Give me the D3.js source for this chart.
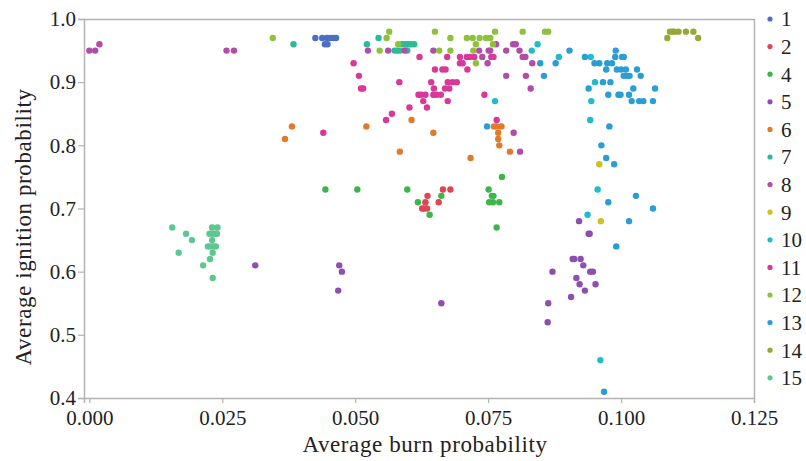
<!DOCTYPE html>
<html>
<head>
<meta charset="utf-8">
<script src="https://cdn.jsdelivr.net/npm/d3@7"></script>
<style>
  html, body { margin: 0; padding: 0; background: #fff; }
  svg { display: block; }
  text { font-family: "Liberation Serif", "Times New Roman", serif; fill: #222; }
</style>
</head>
<body>
<svg id="chart" width="806" height="461"></svg>
<script>
// Zone labels shown in the legend, with one colour each
const zones = ["1", "2", "4", "5", "6", "7", "8", "9", "10", "11", "12", "13", "14", "15"];
const zoneColors = ["#4c6fc4", "#e04552", "#3cb54a", "#8c4fae", "#e07b2c", "#2cbb98", "#b14ca8",
                    "#c9c320", "#21bccb", "#d93799", "#8ec13e", "#2a9dd4", "#98a735", "#5ec790"];

// [average burn probability, average ignition probability] per zone
const zone1 = [[0.0425,0.97],[0.0438,0.97],[0.0447,0.97],[0.0453,0.97],[0.0459,0.97],[0.0464,0.97],[0.0443,0.96],[0.0448,0.96]];
const zone2 = [[0.0665,0.73],[0.0679,0.73],[0.0636,0.72],[0.0632,0.71],[0.0657,0.71],[0.0626,0.70],[0.0630,0.70],[0.0635,0.70]];
const zone4 = [[0.0444,0.73],[0.0504,0.73],[0.0598,0.73],[0.0751,0.73],[0.0662,0.72],[0.0757,0.72],[0.0760,0.72],[0.0618,0.71],
               [0.0752,0.71],[0.0759,0.71],[0.0771,0.71],[0.0640,0.69],[0.0766,0.67],[0.0776,0.75]];
const zone5 = [[0.0312,0.61],[0.0470,0.61],[0.0475,0.60],[0.0468,0.57],[0.0662,0.55],[0.0921,0.68],[0.0939,0.66],[0.0941,0.66],
               [0.0909,0.62],[0.0912,0.62],[0.0924,0.62],[0.0929,0.61],[0.0871,0.60],[0.0942,0.60],[0.0947,0.60],[0.0916,0.59],
               [0.0922,0.58],[0.0952,0.58],[0.0932,0.57],[0.0906,0.56],[0.0863,0.55],[0.0862,0.52]];
const zone6 = [[0.0381,0.83],[0.0368,0.81],[0.0521,0.83],[0.0606,0.84],[0.0584,0.79],[0.0647,0.82],[0.0717,0.78],[0.0761,0.83],
               [0.0766,0.83],[0.0775,0.83],[0.0769,0.82],[0.0769,0.81],[0.0771,0.80],[0.0791,0.79]];
const zone7 = [[0.0384,0.96],[0.0522,0.96],[0.0544,0.97],[0.0588,0.96],[0.0593,0.96],[0.0597,0.96],[0.0602,0.96],[0.0606,0.96],
               [0.0611,0.96],[0.0574,0.95],[0.0579,0.95],[0.0584,0.95],[0.0598,0.95]];
const zone8 = [[0.0000,0.95],[0.0011,0.95],[0.0019,0.96],[0.0258,0.95],[0.0272,0.95],[0.0524,0.95],[0.0562,0.95],[0.0593,0.95],
               [0.0647,0.95],[0.0733,0.95],[0.0739,0.94],[0.0749,0.93],[0.0751,0.95],[0.0754,0.95],[0.0765,0.96],[0.0784,0.95],
               [0.0797,0.96],[0.0802,0.96],[0.0809,0.95],[0.0815,0.94],[0.0820,0.94],[0.0784,0.91],[0.0821,0.91],[0.0830,0.89],
               [0.0833,0.93],[0.0798,0.82],[0.0810,0.79]];
const zone9 = [[0.0959,0.77],[0.0962,0.68]];
const zone10 = [[0.0763,0.87],[0.0832,0.95],[0.0843,0.96],[0.0883,0.94],[0.0943,0.94],[0.0951,0.90],[0.0944,0.87],[0.0942,0.84],
                [0.0956,0.73],[0.0937,0.69],[0.0961,0.46]];
const zone11 = [[0.0497,0.93],[0.0507,0.91],[0.0511,0.89],[0.0515,0.89],[0.0583,0.90],[0.0558,0.84],[0.0569,0.85],[0.0602,0.86],
                [0.0440,0.82],[0.0621,0.94],[0.0673,0.94],[0.0650,0.92],[0.0664,0.92],[0.0670,0.92],[0.0643,0.90],[0.0648,0.89],
                [0.0674,0.90],[0.0683,0.90],[0.0691,0.90],[0.0669,0.89],[0.0677,0.89],[0.0619,0.88],[0.0624,0.88],[0.0632,0.88],
                [0.0647,0.88],[0.0653,0.88],[0.0661,0.88],[0.0628,0.87],[0.0635,0.86],[0.0674,0.87],[0.0697,0.94],[0.0710,0.94],
                [0.0716,0.94],[0.0724,0.94],[0.0697,0.93],[0.0702,0.93],[0.0711,0.92],[0.0756,0.94],[0.0760,0.94],[0.0743,0.88],
                [0.0766,0.84]];
const zone12 = [[0.0345,0.97],[0.0564,0.98],[0.0559,0.97],[0.0546,0.95],[0.0581,0.96],[0.0658,0.95],[0.0650,0.98],[0.0679,0.97],
                [0.0679,0.95],[0.0710,0.97],[0.0721,0.97],[0.0734,0.97],[0.0746,0.97],[0.0754,0.97],[0.0727,0.96],[0.0722,0.95],
                [0.0727,0.93],[0.0759,0.96],[0.0763,0.98],[0.0815,0.98],[0.0857,0.98],[0.0863,0.98]];
const zone13 = [[0.0748,0.83],[0.0848,0.93],[0.0855,0.91],[0.0903,0.95],[0.0877,0.93],[0.0932,0.94],[0.0950,0.93],[0.0959,0.93],
                [0.0974,0.93],[0.0983,0.93],[0.0990,0.95],[0.0989,0.94],[0.1002,0.94],[0.1005,0.94],[0.0972,0.92],[0.0992,0.92],
                [0.1000,0.92],[0.1009,0.92],[0.1030,0.92],[0.1005,0.91],[0.1010,0.91],[0.1016,0.91],[0.1037,0.91],[0.0966,0.90],
                [0.0980,0.90],[0.0939,0.89],[0.1023,0.89],[0.1064,0.89],[0.0976,0.88],[0.0995,0.88],[0.0999,0.88],[0.1015,0.88],
                [0.1020,0.87],[0.1034,0.87],[0.1042,0.87],[0.1060,0.87],[0.0978,0.83],[0.0963,0.80],[0.0972,0.78],[0.0987,0.77],
                [0.1028,0.72],[0.0976,0.71],[0.1060,0.70],[0.1015,0.68],[0.0991,0.64],[0.0968,0.41]];
const zone14 = [[0.1092,0.98],[0.1097,0.98],[0.1100,0.98],[0.1108,0.98],[0.1122,0.98],[0.1136,0.98],[0.1087,0.97],[0.1145,0.97]];
const zone15 = [[0.0156,0.67],[0.0182,0.66],[0.0193,0.65],[0.0168,0.63],[0.0231,0.67],[0.0241,0.67],[0.0226,0.66],[0.0231,0.66],
                [0.0236,0.66],[0.0240,0.66],[0.0231,0.65],[0.0223,0.64],[0.0228,0.64],[0.0233,0.64],[0.0238,0.64],[0.0232,0.63],
                [0.0227,0.62],[0.0214,0.61],[0.0232,0.59]];

const xTicks = [0, 0.025, 0.05, 0.075, 0.1, 0.125];
const yTicks = [0.4, 0.5, 0.6, 0.7, 0.8, 0.9, 1.0];

const zoneSeries = [zone1, zone2, zone4, zone5, zone6, zone7, zone8, zone9, zone10, zone11, zone12, zone13, zone14, zone15];

// Flatten into one table of points tagged with their zone
const points = [];
zoneSeries.forEach((series, i) => {
  series.forEach(([burn, ign]) => points.push({ zone: zones[i], burn, ign }));
});

const svg = d3.select("#chart");
const plotLeft = 84, plotRight = 754, plotTop = 19, plotBottom = 398;

const x = d3.scaleLinear().domain([-0.001, 0.125]).range([plotLeft, plotRight]);
const y = d3.scaleLinear().domain([0.4, 1.0]).range([plotBottom, plotTop]);
const color = d3.scaleOrdinal().domain(zones).range(zoneColors);

const axisColor = "#b3b3b3";

// Frame lines on the top and right
svg.append("line").attr("x1", plotLeft).attr("x2", plotRight).attr("y1", plotTop + 0.5).attr("y2", plotTop + 0.5)
  .attr("stroke", axisColor).attr("stroke-width", 1.5);
svg.append("line").attr("x1", plotRight + 0.5).attr("x2", plotRight + 0.5).attr("y1", plotTop).attr("y2", plotBottom)
  .attr("stroke", axisColor).attr("stroke-width", 1.5);

const xAxis = svg.append("g")
  .attr("transform", `translate(0,${plotBottom})`)
  .call(d3.axisBottom(x).tickValues(xTicks).tickFormat(d3.format(".3f")).tickSize(5).tickPadding(7));
const yAxis = svg.append("g")
  .attr("transform", `translate(${plotLeft},0)`)
  .call(d3.axisLeft(y).tickValues(yTicks).tickFormat(d3.format(".1f")).tickSize(6).tickPadding(2));

[xAxis, yAxis].forEach(g => {
  g.select(".domain").attr("stroke", axisColor).attr("stroke-width", 1.5);
  g.selectAll(".tick line").attr("stroke", axisColor).attr("stroke-width", 1.2);
  g.selectAll(".tick text").attr("fill", "#222").style("font-size", "21px")
    .style("font-family", "'Liberation Serif', serif");
});

// Scatter points
svg.append("g").selectAll("circle")
  .data(points)
  .join("circle")
  .attr("cx", d => x(d.burn))
  .attr("cy", d => y(d.ign))
  .attr("r", 3.2)
  .attr("fill", d => color(d.zone));

// Axis titles
svg.append("text")
  .attr("x", 425).attr("y", 452)
  .attr("text-anchor", "middle")
  .style("font-size", "23px")
  .style("letter-spacing", "0.6px")
  .text("Average burn probability");

svg.append("text")
  .attr("transform", "translate(31,227) rotate(-90)")
  .attr("text-anchor", "middle")
  .style("font-size", "23px")
  .style("letter-spacing", "0.6px")
  .text("Average ignition probability");

// Legend
const legend = svg.append("g").selectAll("g")
  .data(zones)
  .join("g")
  .attr("transform", (d, i) => `translate(770,${19 + i * 27.6})`);
legend.append("circle").attr("r", 2.6).attr("fill", d => color(d));
legend.append("text")
  .attr("x", 11).attr("dy", "0.35em")
  .style("font-size", "21px")
  .text(d => d);
</script>
</body>
</html>
